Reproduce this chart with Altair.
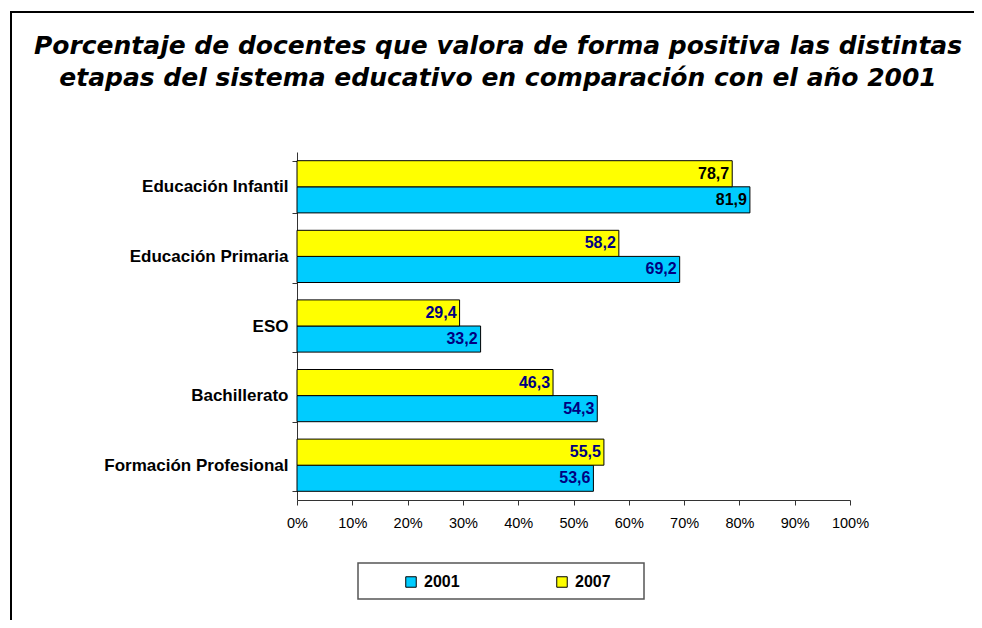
import altair as alt
import pandas as pd

categories = ["Educación Infantil", "Educación Primaria", "ESO", "Bachillerato", "Formación Profesional"]
v2001 = [81.9, 69.2, 33.2, 54.3, 53.6]
v2007 = [78.7, 58.2, 29.4, 46.3, 55.5]
years = ["2001", "2007"]
title_lines = ["Porcentaje de docentes que valora de forma positiva las distintas",
               "etapas del sistema educativo en comparación con el año 2001"]

rows = []
for c, a, b in zip(categories, v2001, v2007):
    rows.append({"cat": c, "year": "2001", "val": a})
    rows.append({"cat": c, "year": "2007", "val": b})
df = pd.DataFrame(rows)
df["label"] = df["val"].map(lambda v: f"{v:.1f}".replace(".", ","))

FONT = "Arial, Liberation Sans, sans-serif"
TFONT = "DejaVu Sans, Verdana, sans-serif"
W, H = 553, 348
PADL, PADT = 289, 144

y_enc = alt.Y("cat:N", sort=categories, title=None,
              scale=alt.Scale(paddingInner=0.25, paddingOuter=0.125),
              axis=alt.Axis(tickBand="extent", labelFontWeight="bold", labelFontSize=17,
                            labelFont=FONT, labelColor="black", labelPadding=4,
                            tickSize=5, domainColor="#333333", tickColor="#333333", labelLimit=300))
yoff = alt.YOffset("year:N", sort=["2007", "2001"], scale=alt.Scale(paddingInner=0, paddingOuter=0))

base = alt.Chart(df)

bars = base.mark_bar(stroke="black", strokeWidth=1).encode(
    x=alt.X("val:Q", scale=alt.Scale(domain=[0, 100]), title=None,
            axis=alt.Axis(values=list(range(0, 101, 10)), labelExpr="datum.value + '%'",
                          grid=False, labelFontSize=14.5, labelFont=FONT, labelColor="black",
                          labelFlush=False, labelOverlap=False,
                          labelPadding=11, tickSize=5, domainColor="#333333", tickColor="#333333")),
    y=y_enc,
    yOffset=yoff,
    color=alt.Color("year:N", sort=years,
                    scale=alt.Scale(domain=years, range=["#00CCFF", "#FFFF00"]),
                    legend=alt.Legend(title=None, orient="none", direction="horizontal",
                                      legendX=395 - PADL, legendY=574 - PADT - 8,
                                      symbolType="square", symbolSize=110, symbolStrokeColor="black",
                                      symbolStrokeWidth=1, labelFontSize=16, labelFontWeight="bold",
                                      labelFont=FONT, labelColor="black", columnPadding=94,
                                      labelOffset=5)),
)

labels = base.mark_text(align="right", baseline="middle", dx=-3, fontSize=16,
                        fontWeight="bold", font=FONT).encode(
    x="val:Q",
    y=alt.Y("cat:N", sort=categories),
    yOffset=yoff,
    text="label:N",
    color=alt.condition(alt.datum.cat == "Educación Infantil", alt.value("black"), alt.value("#000080")),
)

one = pd.DataFrame({"k": [0]})

legend_box = alt.Chart(one).mark_rect(
    fill=None, stroke="#555555", strokeWidth=1.5).encode(
    x=alt.value(358 - 8 - PADL), x2=alt.value(644 - 8 - PADL),
    y=alt.value(563 - 8 - PADT), y2=alt.value(599 - 8 - PADT))

frame = alt.Chart(one).mark_rect(
    fill=None, stroke="black", strokeWidth=2).encode(
    x=alt.value(11 - 8 - PADL), x2=alt.value(1100),
    y=alt.value(12 - 8 - PADT), y2=alt.value(800))

title = alt.Chart(one).mark_text(
    text=title_lines, font=TFONT, fontSize=25, fontStyle="italic", fontWeight="bold",
    color="black", align="center", baseline="alphabetic", lineHeight=32).encode(
    x=alt.value(498 - 8 - PADL), y=alt.value(54 - 8 - PADT))

chart = alt.layer(frame, bars, labels, legend_box, title).properties(
    width=W, height=H,
    autosize=alt.AutoSizeParams(type="none"),
    padding={"left": PADL, "top": PADT, "right": 966 - PADL - W, "bottom": 612 - PADT - H},
).configure_view(stroke=None)

chart.save("out.html", embed_options={"renderer": "svg", "actions": False})
